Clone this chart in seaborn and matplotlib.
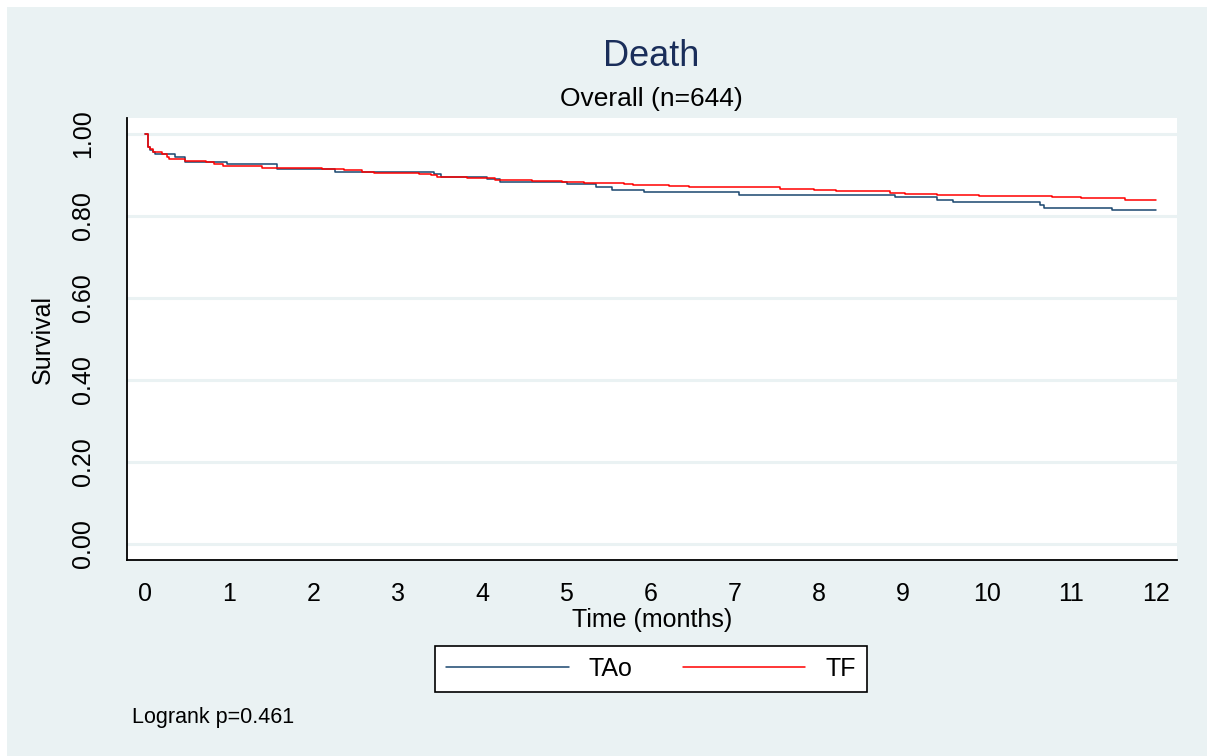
import matplotlib
matplotlib.use("Agg")
import matplotlib.pyplot as plt
import seaborn as sns
import pandas as pd

# Kaplan-Meier steps
tao_time = [0, 0.03, 0.06, 0.09, 0.12, 0.36, 0.48, 0.97, 1.57, 2.26, 3.43, 3.52,
            4.06, 4.22, 5.01, 5.35, 5.54, 5.92, 7.05, 8.91, 9.40, 9.60, 10.63,
            10.68, 11.48, 12.0]
tao_surv = [1.0, 0.968, 0.962, 0.957, 0.951, 0.945, 0.931, 0.926, 0.914, 0.907,
            0.902, 0.894, 0.890, 0.884, 0.877, 0.870, 0.863, 0.858, 0.851, 0.846,
            0.839, 0.833, 0.827, 0.820, 0.815, 0.815]

tf_time = [0, 0.03, 0.06, 0.09, 0.13, 0.20, 0.26, 0.29, 0.48, 0.73, 0.82, 0.92,
           1.39, 2.10, 2.36, 2.58, 2.72, 3.25, 3.39, 3.47, 3.82, 4.16, 4.60, 4.95,
           5.21, 5.69, 5.80, 6.22, 6.46, 7.54, 7.94, 8.20, 8.85, 9.03, 9.40, 9.90,
           10.77, 11.12, 11.64, 12.0]
tf_surv = [1.0, 0.969, 0.963, 0.957, 0.955, 0.951, 0.945, 0.939, 0.934, 0.931,
           0.928, 0.923, 0.918, 0.915, 0.911, 0.908, 0.906, 0.903, 0.901, 0.896,
           0.892, 0.888, 0.886, 0.884, 0.881, 0.878, 0.876, 0.873, 0.870, 0.867,
           0.864, 0.861, 0.857, 0.854, 0.851, 0.849, 0.846, 0.844, 0.840, 0.840]

x_ticks = list(range(13))
y_ticks = [0.0, 0.2, 0.4, 0.6, 0.8, 1.0]

df = pd.concat([
    pd.DataFrame({"time": tao_time, "surv": tao_surv, "group": "TAo"}),
    pd.DataFrame({"time": tf_time, "surv": tf_surv, "group": "TF"}),
])

sns.set_theme(style="white")
plt.rcParams["font.family"] = ["Liberation Sans", "DejaVu Sans"]
plt.rcParams["text.color"] = "black"
plt.rcParams["axes.labelcolor"] = "black"

bg = "#EAF2F3"
fig = plt.figure(figsize=(12.07, 7.56), dpi=100, facecolor="white")
fig.patches.append(plt.Rectangle((7 / 1207, 0), 1, 1 - 7 / 756, transform=fig.transFigure,
                                 facecolor=bg, edgecolor="none", zorder=-10))
ax = fig.add_axes([127 / 1207, 1 - 560 / 756, 1050 / 1207, 442 / 756])
ax.set_facecolor("white")

sns.lineplot(data=df, x="time", y="surv", hue="group", estimator=None,
             palette={"TAo": "#1a476f", "TF": "#ff0000"}, drawstyle="steps-post",
             linewidth=1.1, ax=ax)

ax.set_xlim(-0.214, 12.254)
ax.set_ylim(-0.039, 1.039)
ax.set_xticks(x_ticks)
ax.set_yticks(y_ticks)
ax.set_yticklabels([f"{v:.2f}" for v in y_ticks], rotation=90, va="center")
ax.tick_params(axis="both", labelsize=18, colors="black", direction="out")
ax.tick_params(axis="x", length=10, width=1.2, pad=6)
ax.tick_params(axis="y", length=12, width=1.2, pad=11)
ax.yaxis.grid(True, color=bg, linewidth=2.2)
ax.set_axisbelow(True)
for s in ["top", "right"]:
    ax.spines[s].set_visible(False)
for s in ["left", "bottom"]:
    ax.spines[s].set_color("black")
    ax.spines[s].set_linewidth(1.3)

ax.set_xlabel("Time (months)", fontsize=18, labelpad=1)
ax.set_ylabel("Survival", fontsize=18, labelpad=12)

fig.text(651 / 1207, 1 - 56 / 756, "Death", fontsize=26, color="#1a2e5a",
         ha="center", va="center")
fig.text(651 / 1207, 1 - 99 / 756, "Overall (n=644)", fontsize=19, color="black",
         ha="center", va="center")
fig.text(132 / 1207, 1 - 717 / 756, "Logrank p=0.461", fontsize=15.5, color="black",
         ha="left", va="center")

leg = ax.legend(loc="center", bbox_to_anchor=(651 / 1207, 1 - 669 / 756),
                bbox_transform=fig.transFigure, ncol=2, fontsize=18, frameon=True,
                fancybox=False, handlelength=4.9, handletextpad=0.8,
                columnspacing=2.0, borderpad=0.45, title=None)
leg.get_frame().set_edgecolor("black")
leg.get_frame().set_linewidth(1.2)
leg.get_frame().set_facecolor("white")
leg.get_frame().set_alpha(1)
for t in leg.get_texts():
    t.set_color("black")

fig.savefig("out.png", dpi=100, facecolor=fig.get_facecolor())
